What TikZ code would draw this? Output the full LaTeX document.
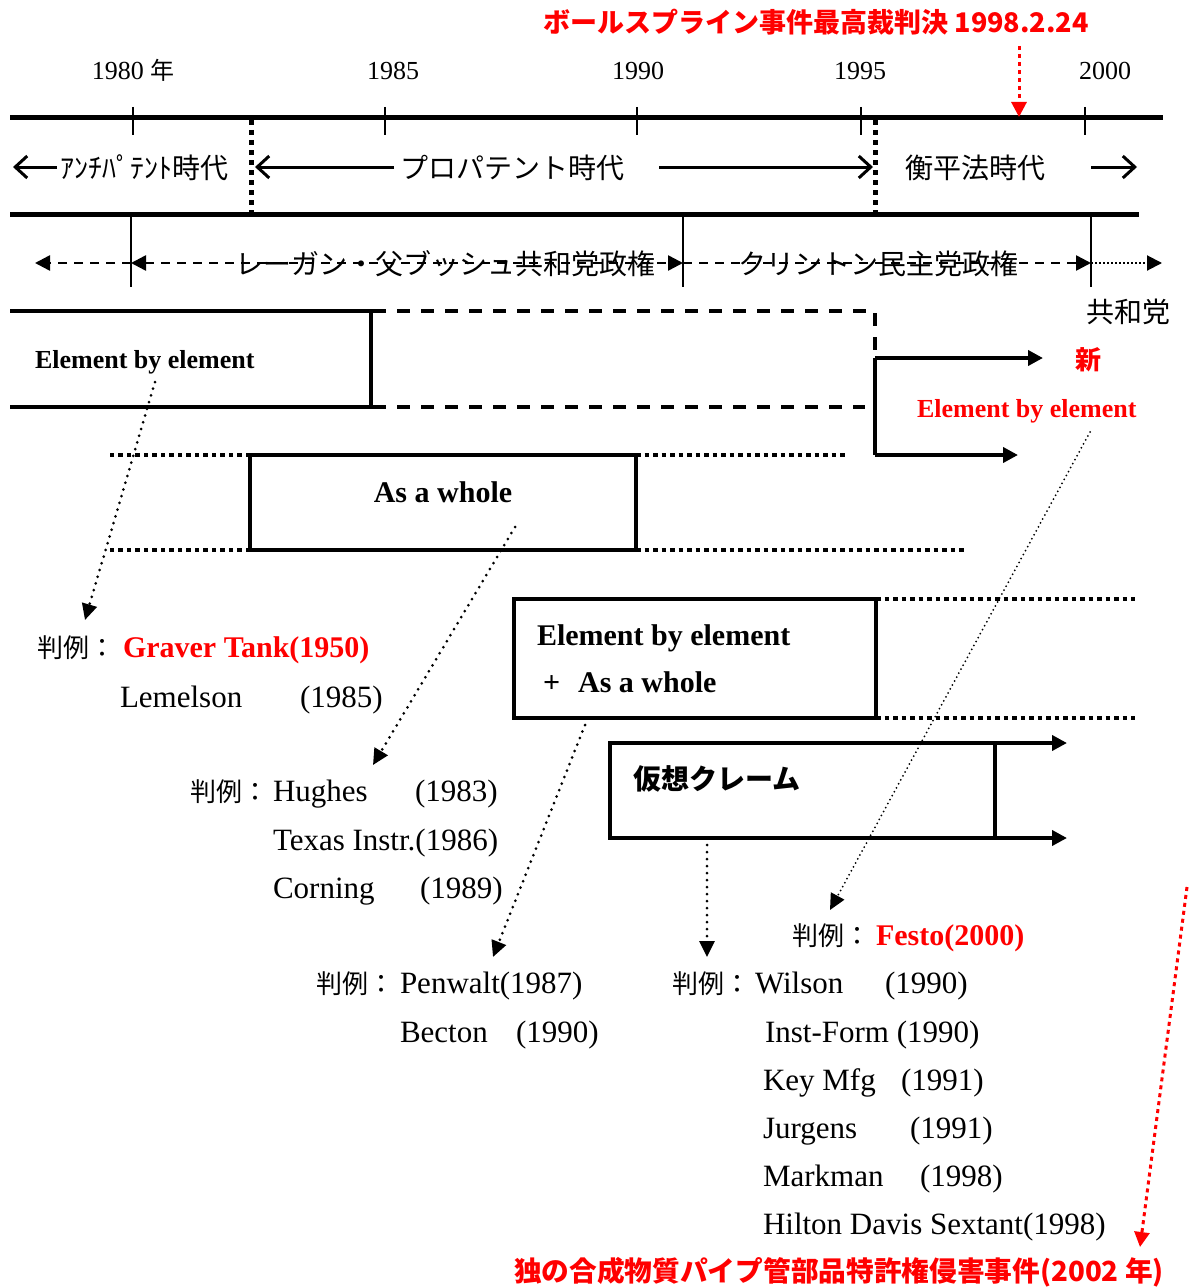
\documentclass[tikz,border=0pt]{standalone}
\usepackage{fontspec}
\setmainfont{Liberation Serif}
\newfontfamily\jp{Noto Sans CJK JP}
\usetikzlibrary{arrows.meta}
\definecolor{rd}{RGB}{255,0,0}
\begin{document}
\begin{tikzpicture}[x=1pt,y=-1pt,
  every node/.style={inner sep=0pt,outer sep=0pt},
  lat/.style={font=\fontsize{31}{33}\selectfont,anchor=base west},
  latb/.style={font=\fontsize{30}{32}\selectfont\bfseries,anchor=base west},
  jpt/.style={font=\jp\fontsize{28}{30}\selectfont,anchor=base west},
  jpc/.style={font=\jp\fontsize{26}{28}\selectfont,anchor=base west},
  yr/.style={font=\fontsize{26}{28}\selectfont,anchor=base},
  thickline/.style={line width=5pt},
  tickmark/.style={line width=1.5pt},
  sqdots/.style={line width=5pt,dash pattern=on 5pt off 5pt},
  openarr/.style={line width=3pt,-{Straight Barb[length=12pt,width=22pt]}},
  tri/.style={-{Triangle[length=15pt,width=15pt]}},
  dsh/.style={line width=2.5pt,dash pattern=on 9pt off 7pt},
  frame/.style={line width=4pt,line join=miter},
  dashedframe/.style={line width=4pt,dash pattern=on 13pt off 11pt},
  boxs/.style={draw,line width=4pt,rectangle},
  sqd/.style={line width=4.5pt,dash pattern=on 4.5pt off 4pt},
  dotconn/.style={line width=3pt,dash pattern=on 0pt off 7pt,line cap=round,-{Triangle[length=16pt,width=15pt]}},
  thinconn/.style={line width=2pt,dash pattern=on 0pt off 4.5pt,line cap=round,-{Triangle[length=16pt,width=15pt]}},
  redconn/.style={rd,line width=3pt,dash pattern=on 4pt off 4pt,-{Triangle[length=15pt,width=15pt]}},
]
\useasboundingbox (0,0) rectangle (1189,1287);

% ---------- title and years
\node[font=\jp\bfseries\fontsize{27}{29}\selectfont,text=rd,anchor=base] (title) at (816,33) {ボールスプライン事件最高裁判決 1998.2.24};
\node[yr] (y1980) at (133,80) {1980 {\jp\fontsize{24}{26}\selectfont 年}};
\node[yr] (y1985) at (393,80) {1985};
\node[yr] (y1990) at (638,80) {1990};
\node[yr] (y1995) at (860,80) {1995};
\node[yr] (y2000) at (1105,80) {2000};

% ---------- time axis
\draw[thickline] (10,118) -- (1163,118);
\foreach \x in {133,385,637,861,1085} \draw[tickmark] (\x,107) -- (\x,135);
\coordinate (ballS) at (1019,46);
\coordinate (ballE) at (1019,117);
\draw[redconn] (ballS) -- (ballE);
\draw[sqdots] (251,120) -- (251,212);
\draw[sqdots] (875,120) -- (875,212);
\draw[thickline] (10,214) -- (1139,214);

% ---------- era row
\node[jpt] (anti) at (60,178) {ｱﾝﾁﾊﾟﾃﾝﾄ時代};
\node[jpt] (pro) at (400,178) {プロパテント時代};
\node[jpt] (eq) at (905,178) {衡平法時代};
\coordinate (aS) at (57,167);   \coordinate (aE) at (13,167);
\coordinate (pS) at (394,167);  \coordinate (pE) at (255,167);
\coordinate (qS) at (659,167);  \coordinate (qE) at (873,167);
\coordinate (rS) at (1091,167); \coordinate (rE) at (1137,167);
\draw[openarr] (aS) -- (aE);
\draw[openarr] (pS) -- (pE);
\draw[openarr] (qS) -- (qE);
\draw[openarr] (rS) -- (rE);

% ---------- government row
\foreach \x in {131,683,1091} \draw[line width=2pt] (\x,214) -- (\x,287);
\coordinate (pL) at (35,263);
\coordinate (p0) at (131,263);
\coordinate (p1) at (683,263);
\coordinate (p2) at (1091,263);
\coordinate (pR) at (1162,263);
\draw[dsh,tri] (p0) -- (pL);
\draw[dsh,{Triangle[length=15pt,width=15pt]}-{Triangle[length=15pt,width=15pt]}] (p0) -- (p1);
\draw[dsh,tri] (p1) -- (p2);
\draw[line width=2pt,dash pattern=on 2pt off 2pt,tri] (p2) -- (pR);
\node[jpt] (reagan) at (235,274) {レーガン・父ブッシュ共和党政権};
\node[jpt] (clinton) at (738,274) {クリントン民主党政権};
\node[jpt] (kyowa) at (1086,322) {共和党};

% ---------- element by element band
\draw[frame] (10,311) -- (371,311) -- (371,407) -- (10,407);
\draw[dashedframe] (373,311) -- (875,311) -- (875,354);
\draw[dashedframe] (373,407) -- (865,407);
\node[font=\fontsize{26}{28}\selectfont\bfseries,anchor=base west] (ebe1) at (35,368) {Element by element};
\coordinate (sp1) at (875,358);
\coordinate (sp2) at (875,455);
\coordinate (sp1e) at (1043,358);
\coordinate (sp2e) at (1018,455);
\draw[frame] (sp1) -- (sp2);
\draw[frame,tri] (sp1) -- (sp1e);
\draw[frame,tri] (sp2) -- (sp2e);
\node[font=\jp\bfseries\fontsize{26}{28}\selectfont,text=rd,anchor=base] (shin) at (1088,369) {新};
\node[font=\fontsize{26}{28}\selectfont\bfseries,text=rd,anchor=base west] (ebe2) at (917,417) {Element by element};

% ---------- as a whole
\node[boxs,minimum width=386pt,minimum height=95pt] (whole) at (443,502.5) {};
\node[latb,anchor=base] (wholetxt) at (443,502) {As a whole};
\draw[sqd] (whole.north west) -- (110,455);
\draw[sqd] (whole.south west) -- (110,550);
\draw[sqd] (whole.north east) -- (845,455);
\draw[sqd] (whole.south east) -- (965,550);

% ---------- combined box
\node[boxs,minimum width=362pt,minimum height=119pt] (comb) at (695,658.5) {};
\node[latb] (comb1) at (537,645) {Element by element};
\node[latb] (comb2) at (543,692) {+\hspace{18pt}As a whole};
\draw[sqd] (comb.north east) -- (1135,599);
\draw[sqd] (comb.south east) -- (1135,718);

% ---------- virtual claim box
\node[boxs,minimum width=385pt,minimum height=95pt] (virt) at (802.5,790.5) {};
\node[font=\jp\bfseries\fontsize{28}{30}\selectfont,anchor=base west] (virttxt) at (633,789) {仮想クレーム};
\coordinate (vt) at (1067,743);
\coordinate (vb) at (1067,838);
\draw[frame,tri] (virt.north east) -- (vt);
\draw[frame,tri] (virt.south east) -- (vb);

% ---------- cases
\node[jpc] (c1j) at (37,657) {判例：};
\node[latb,text=rd] (c1) at (123,657) {Graver Tank(1950)};
\node[lat] (c2) at (120,707) {Lemelson};
\node[lat] (c2y) at (300,707) {(1985)};

\node[jpc] (c3j) at (190,801) {判例：};
\node[lat] (c3) at (273,801) {Hughes};
\node[lat] (c3y) at (415,801) {(1983)};
\node[lat] (c4) at (273,850) {Texas Instr.(1986)};
\node[lat] (c5) at (273,898) {Corning};
\node[lat] (c5y) at (420,898) {(1989)};

\node[jpc] (c6j) at (316,993) {判例：};
\node[lat] (c6) at (400,993) {Penwalt(1987)};
\node[lat] (c7) at (400,1042) {Becton};
\node[lat] (c7y) at (516,1042) {(1990)};

\node[jpc] (c8j) at (792,945) {判例：};
\node[latb,text=rd] (c8) at (876,945) {Festo(2000)};

\node[jpc] (c9j) at (672,993) {判例：};
\node[lat] (c9) at (755,993) {Wilson};
\node[lat] (c9y) at (885,993) {(1990)};
\node[lat] (c10) at (765,1042) {Inst-Form (1990)};
\node[lat] (c11) at (763,1090) {Key Mfg};
\node[lat] (c11y) at (901,1090) {(1991)};
\node[lat] (c12) at (763,1138) {Jurgens};
\node[lat] (c12y) at (910,1138) {(1991)};
\node[lat] (c13) at (763,1186) {Markman};
\node[lat] (c13y) at (920,1186) {(1998)};
\node[lat] (c14) at (763,1234) {Hilton Davis Sextant(1998)};

\node[font=\jp\bfseries\fontsize{27.7}{30}\selectfont,text=rd,anchor=base west] (doku) at (514,1281) {独の合成物質パイプ管部品特許権侵害事件(2002 年)};

% ---------- dotted connectors
\coordinate (k1s) at (155,382); \coordinate (k1e) at (85,620);
\coordinate (k2s) at (515,527); \coordinate (k2e) at (373,765);
\coordinate (k3s) at (585,725); \coordinate (k3e) at (493,957);
\coordinate (k4s) at (707,845); \coordinate (k4e) at (707,957);
\coordinate (k5s) at (1090,432); \coordinate (k5e) at (830,910);
\coordinate (k6s) at (1187,887); \coordinate (k6e) at (1140,1247);
\draw[dotconn] (k1s) -- (k1e);
\draw[dotconn] (k2s) -- (k2e);
\draw[dotconn] (k3s) -- (k3e);
\draw[dotconn] (k4s) -- (k4e);
\draw[thinconn] (k5s) -- (k5e);
\draw[redconn] (k6s) -- (k6e);
\end{tikzpicture}
\end{document}
